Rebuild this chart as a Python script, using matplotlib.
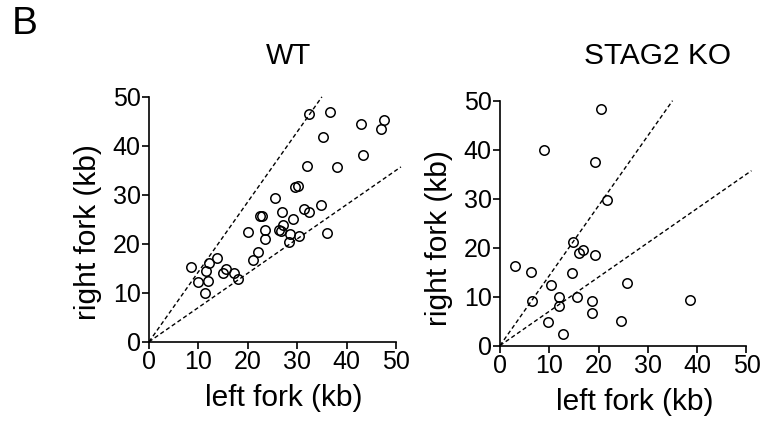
import numpy as np
import matplotlib.pyplot as plt

plt.rcParams['font.family'] = ['Liberation Sans', 'DejaVu Sans']

# WT: left fork vs right fork (kb)
wt_left = [8.5, 9.9, 11.5, 12.2, 12.0, 11.4, 13.8, 14.9, 15.6, 17.3, 18.0,
           20.0, 21.1, 22.0, 22.4, 22.8, 23.4, 23.4, 25.6, 26.3, 26.7, 27.0,
           27.1, 28.4, 28.6, 29.1, 29.5, 30.1, 30.3, 31.4, 32.3, 32.0, 32.3,
           34.9, 35.2, 36.1, 36.7, 38.1, 43.0, 43.3, 47.0, 47.6]
wt_right = [15.2, 12.2, 14.4, 16.0, 12.4, 9.9, 17.1, 14.1, 14.9, 14.1, 12.8,
            22.4, 16.7, 18.4, 25.6, 25.7, 22.9, 21.0, 29.4, 22.9, 22.6, 26.5,
            23.8, 20.4, 22.0, 25.1, 31.5, 31.9, 21.5, 27.1, 26.4, 35.9, 46.6,
            28.0, 41.8, 22.2, 46.9, 35.6, 44.4, 38.2, 43.5, 45.2]

# STAG2 KO
ko_left = [3.1, 6.3, 6.4, 9.0, 9.7, 10.3, 12.0, 12.0, 12.8, 14.6, 14.8, 15.6,
           16.0, 16.9, 18.6, 18.6, 19.2, 19.3, 20.4, 21.8, 24.6, 25.7, 38.6]
ko_right = [16.3, 15.0, 9.1, 39.9, 4.8, 12.4, 9.9, 8.0, 2.4, 14.8, 21.2, 9.9,
            18.9, 19.5, 9.1, 6.7, 18.4, 37.5, 48.2, 29.7, 5.0, 12.8, 9.3]

# guide lines: right = left / 0.7 and right = 0.7 * left
steep_x = [0, 35]
steep_y = [0, 50]
shallow_x = [0, 51]
shallow_y = [0, 35.7]

ticks = [0, 10, 20, 30, 40, 50]

fig = plt.figure(figsize=(7.68, 4.23), dpi=100)
ax1 = fig.add_axes([0.194, 0.192, 0.3216, 0.579])
ax2 = fig.add_axes([0.651, 0.183, 0.321, 0.579])

for ax, xs, ys, ylab_y in [(ax1, wt_left, wt_right, 0.447), (ax2, ko_left, ko_right, 0.44)]:
    ax.plot(steep_x, steep_y, '--', color='black', lw=1, dashes=(3, 2), clip_on=False)
    ax.plot(shallow_x, shallow_y, '--', color='black', lw=1, dashes=(3, 2), clip_on=False)
    ax.plot(xs, ys, 'o', mfc='none', mec='black', mew=1.1, ms=6.8, clip_on=False)
    ax.set_xlim(0, 50)
    ax.set_ylim(0, 50)
    ax.set_xticks(ticks)
    ax.set_yticks(ticks)
    ax.spines['top'].set_visible(False)
    ax.spines['right'].set_visible(False)
    for s in ['left', 'bottom']:
        ax.spines[s].set_linewidth(1.2)
    ax.tick_params(direction='out', length=5, width=1.2, labelsize=18, pad=1)
    ax.set_xlabel('left fork (kb)', fontsize=21.5)
    ax.set_ylabel('right fork (kb)', fontsize=21.5)
    ax.xaxis.set_label_coords(0.545, -0.173)
    ax.yaxis.set_label_coords(-0.192, ylab_y)

fig.text(288 / 768, 1 - 56 / 423, 'WT', fontsize=21, ha='center', va='center')
fig.text(658 / 768, 1 - 56 / 423, 'STAG2 KO', fontsize=21.5, ha='center', va='center')
fig.text(12 / 768, 1 - 24 / 423, 'B', fontsize=28, ha='left', va='center')

plt.savefig('out.png', dpi=100)
